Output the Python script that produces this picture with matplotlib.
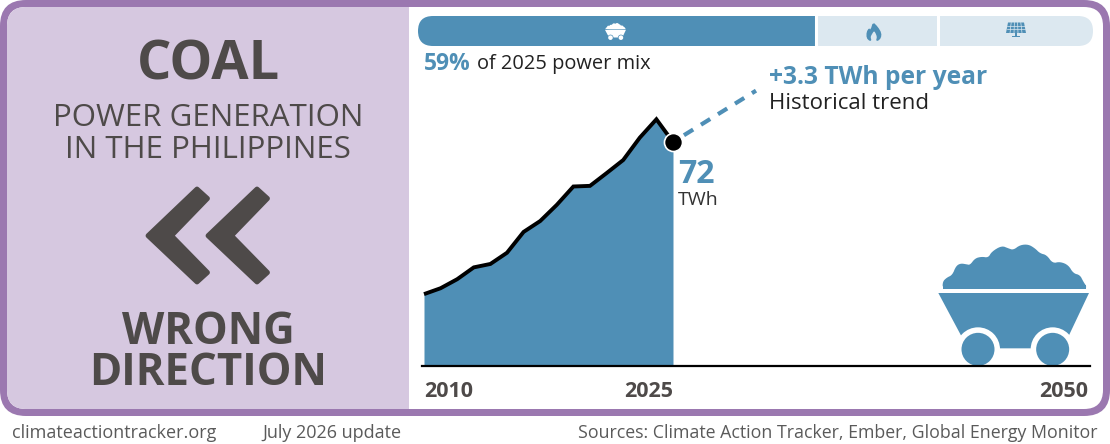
import numpy as np
import matplotlib
matplotlib.use('Agg')
import matplotlib.pyplot as plt
from matplotlib.patches import FancyBboxPatch, Polygon, Circle, Rectangle

# data
years = [2010, 2011, 2012, 2013, 2014, 2015, 2016, 2017, 2018, 2019, 2020, 2021, 2022, 2023, 2024, 2025]
coal_twh = [23.1, 25.0, 27.9, 31.7, 32.8, 36.4, 43.1, 46.6, 51.8, 57.7, 57.9, 62.0, 66.2, 73.4, 79.3, 72.0]
trend_per_year = 3.3
tick_years = [2010, 2025, 2050]
mix_shares = [59, 18, 23]

BLUE = '#4f8fb6'
LIGHT = '#dce8f0'
PURPLE = '#9b78b0'
LILAC = '#d6c8e0'
DARK = '#4e4a49'
FONT = 'Open Sans'

plt.rcParams['font.family'] = [FONT, 'DejaVu Sans']

W, H = 1110, 444
fig = plt.figure(figsize=(W / 100, H / 100), dpi=100, facecolor='white')


def axes_px(x0, y0, x1, y1, **kw):
    # axes placed with pixel coordinates measured from the top left
    return fig.add_axes([x0 / W, 1 - y1 / H, (x1 - x0) / W, (y1 - y0) / H], **kw)


def smooth(pts, n=2):
    # corner cutting, keeps the icon outlines from looking spiky
    pts = np.asarray(pts, float)
    for _ in range(n):
        nxt = np.roll(pts, -1, axis=0)
        pts = np.column_stack([0.75 * pts + 0.25 * nxt, 0.25 * pts + 0.75 * nxt]).reshape(-1, 2)
    return pts


# everything that is not data sits on this pixel layer
px = axes_px(0, 0, W, H, zorder=1)
px.set_xlim(0, W)
px.set_ylim(H, 0)
px.axis('off')

# frame
px.add_patch(FancyBboxPatch((0, 0), 1110, 416, boxstyle='round,pad=0,rounding_size=26',
                            fc=PURPLE, ec='none'))
inner = FancyBboxPatch((7, 7), 1096, 402, boxstyle='round,pad=0,rounding_size=19',
                       fc='white', ec='none')
px.add_patch(inner)
left = Rectangle((7, 7), 402, 402, fc=LILAC, ec='none')
px.add_patch(left)
left.set_clip_path(inner)

# left panel text
px.text(208, 65, 'COAL', ha='center', va='center', fontsize=39, fontweight='bold', color=DARK)
px.text(208, 134, 'POWER GENERATION\nIN THE PHILIPPINES', ha='center', va='center', fontsize=22.5,
        linespacing=1.05, color=DARK)
px.text(208, 353, 'WRONG\nDIRECTION', ha='center', va='center', fontsize=31.5, fontweight='bold',
        linespacing=0.9, color=DARK)

# chevrons
chevron = np.array([[148, 235.7], [197, 189], [207.5, 198.5], [171.5, 235.7],
                    [207.5, 272.5], [197, 282], [148, 235.7]])
for dx in [0, 60]:
    px.add_patch(Polygon(chevron + [dx, 0], closed=True, fc=DARK, ec=DARK, lw=3.5, joinstyle='round'))

# footer
px.text(12, 433, 'climateactiontracker.org', ha='left', va='center', fontsize=13, color='#5a5a5a')
px.text(262, 433, 'July 2026 update', ha='left', va='center', fontsize=13, color='#5a5a5a')
px.text(1098, 433, 'Sources: Climate Action Tracker, Ember, Global Energy Monitor',
        ha='right', va='center', fontsize=12.8, color='#5a5a5a')

# power mix bar
bar = axes_px(418, 16, 1093, 46, zorder=2)
bar.set_xlim(0, sum(mix_shares))
bar.set_ylim(-0.5, 0.5)
bar.axis('off')
clip = FancyBboxPatch((418, 16), 675, 30, boxstyle='round,pad=0,rounding_size=15',
                      fc='none', ec='none', transform=px.transData)
px.add_patch(clip)
lefts = np.cumsum([0] + mix_shares[:-1])
for share, start, col in zip(mix_shares, lefts, [BLUE, LIGHT, LIGHT]):
    b = bar.barh(0, share, left=start, height=1, color=col, linewidth=0)
    b[0].set_clip_path(clip)
    if start > 0:
        bar.axvline(start, color='white', lw=2.2)

# cart, outline taken from the large one (pixels of a 3x crop)
PILE = np.array([[68, 177], [68, 155], [80, 143], [97, 135], [108, 108], [122, 100], [140, 103], [150, 105],
                 [165, 85], [185, 80], [205, 83], [215, 65], [245, 47], [265, 55], [280, 60], [300, 45],
                 [325, 43], [345, 55], [360, 70], [380, 75], [398, 100], [420, 95], [445, 105], [460, 130],
                 [480, 135], [490, 155], [500, 170], [495, 177]], float)
BODY = np.array([[55, 189], [507, 189], [445, 320], [333, 355], [240, 355], [125, 320]], float)
WHEELS = [(174, 358), (398, 358)]


def draw_cart(a, x0, y0, k, col, bg, ring, wheel):
    # the smoothing rounds the flat bottom too, a plain strip squares it off again
    a.add_patch(Polygon(smooth(PILE) * k + [x0, y0], closed=True, fc=col, ec='none'))
    a.add_patch(Rectangle((68 * k + x0, 165 * k + y0), 430 * k, 12 * k, fc=col, ec='none'))
    a.add_patch(Polygon(BODY * k + [x0, y0], closed=True, fc=col, ec='none'))
    for w in WHEELS:
        c = np.array(w) * k + [x0, y0]
        a.add_patch(Circle(c, ring, fc=bg, ec='none'))
        a.add_patch(Circle(c, wheel, fc=col, ec='none'))


# the big cart stays under the chart layer so the baseline runs over it
draw_cart(px, 920, 230, 1 / 3, BLUE, 'white', 22, 16.5)

# main chart
ax = axes_px(422, 100, 1090, 366, zorder=3)
ax.patch.set_alpha(0)
ax.set_xlim(2009.88, 2050.12)
ax.set_ylim(0, 85.5)
ax.fill_between(years, coal_twh, 0, color=BLUE, lw=0)
ax.plot(years[:-1] + [2024.75], coal_twh[:-1] + [coal_twh[-2] + 0.75 * (coal_twh[-1] - coal_twh[-2])],
        color='black', lw=2.8, solid_joinstyle='miter', solid_capstyle='butt', clip_on=False)
trend_x = np.array([2025.66, 2030.0])
ax.plot(trend_x, coal_twh[-1] + trend_per_year * (trend_x - years[-1]), color=BLUE, lw=3,
        dashes=(2.6, 2.2), clip_on=False)
ax.plot(years[-1], coal_twh[-1], 'o', ms=13, mfc='black', mec='white', mew=1.2, clip_on=False, zorder=5)

for s in ['top', 'left', 'right']:
    ax.spines[s].set_visible(False)
ax.spines['bottom'].set_linewidth(1.6)
ax.spines['bottom'].set_color('black')
ax.set_yticks([])
ax.set_xticks(tick_years)
ax.set_xticklabels([str(y) for y in tick_years], fontsize=15.5, fontweight='bold', color=DARK)
ax.tick_params(axis='x', length=0, pad=11)
for lab, ha in zip(ax.get_xticklabels(), ['left', 'right', 'right']):
    lab.set_ha(ha)

# annotations
top = axes_px(0, 0, W, H, zorder=4)
top.set_xlim(0, W)
top.set_ylim(H, 0)
top.axis('off')
top.text(424, 64, '59%', ha='left', va='center', fontsize=16.5, fontweight='bold', color=BLUE)
top.text(477, 64, 'of 2025 power mix', ha='left', va='center', fontsize=14.4, color='#222222')
top.text(769, 77, '+3.3 TWh per year', ha='left', va='center', fontsize=17.7, fontweight='bold', color=BLUE)
top.text(769, 103, 'Historical trend', ha='left', va='center', fontsize=16, color='#222222')
top.text(678, 174, '72', ha='left', va='center', fontsize=23, fontweight='bold', color=BLUE)
top.text(678, 200, 'TWh', ha='left', va='center', fontsize=14, color='#333333')

# small cart on the mix bar
draw_cart(top, 602.4, 21, 0.0465, 'white', BLUE, 3, 2.3)

# flame icon
flame = [(873, 22), (878, 27), (881.5, 33), (881, 38), (878, 41), (876, 40.5), (877, 37), (875.5, 33), (874, 31),
         (872, 34), (870.5, 37), (871.5, 40.5), (869.5, 41), (866.5, 38), (866.5, 32), (869, 28), (870.5, 30)]
top.add_patch(Polygon(smooth(flame, 1), closed=True, fc=BLUE, ec='none'))

# solar panel icon
top.add_patch(Polygon([(1008, 22.5), (1024, 22.5), (1026, 33), (1006, 33)], closed=True, fc=BLUE, ec='none'))
for i in range(1, 5):
    top.plot([1008 + 3.2 * i, 1006 + 4 * i], [22.5, 33], color=LIGHT, lw=0.5)
for gy, x0, x1 in [(26, 1007.4, 1024.6), (29.5, 1006.7, 1025.3)]:
    top.plot([x0, x1], [gy, gy], color=LIGHT, lw=0.5)
top.add_patch(Rectangle((1015, 33), 2, 4, fc=BLUE, ec='none'))
top.add_patch(Rectangle((1012, 36), 8, 1.5, fc=BLUE, ec='none'))

fig.savefig('out.png', dpi=100, facecolor=fig.get_facecolor())
